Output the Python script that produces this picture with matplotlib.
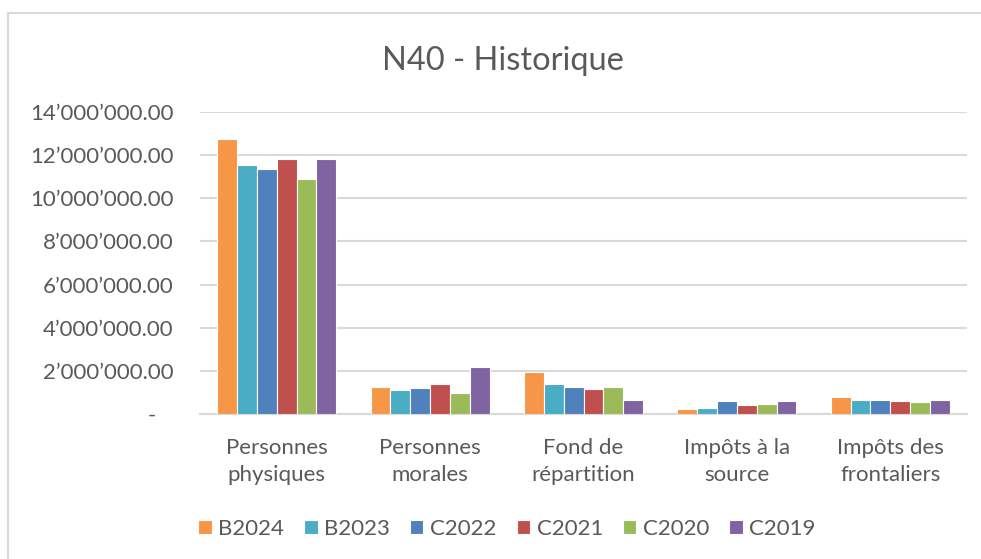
import numpy as np
import matplotlib.pyplot as plt
from matplotlib.patches import Rectangle
from matplotlib.ticker import FuncFormatter

plt.rcParams['font.family'] = ['Lato', 'DejaVu Sans']

categories = ['Personnes\nphysiques', 'Personnes\nmorales', 'Fond de\nrépartition',
              'Impôts à la\nsource', 'Impôts des\nfrontaliers']
series = ['B2024', 'B2023', 'C2022', 'C2021', 'C2020', 'C2019']
colors = ['#F79646', '#4BACC6', '#4F81BD', '#C0504D', '#9BBB59', '#8064A2']

# values in CHF
b2024 = [12_720_000, 1_240_000, 1_960_000, 240_000, 780_000]
b2023 = [11_520_000, 1_130_000, 1_380_000, 300_000, 660_000]
c2022 = [11_340_000, 1_200_000, 1_240_000, 610_000, 660_000]
c2021 = [11_830_000, 1_380_000, 1_180_000, 430_000, 610_000]
c2020 = [10_870_000, 970_000, 1_240_000, 490_000, 550_000]
c2019 = [11_830_000, 2_190_000, 660_000, 610_000, 660_000]
values = [b2024, b2023, c2022, c2021, c2020, c2019]

text_col = '#595959'
grid_col = '#D9D9D9'
fs = 16

fig = plt.figure(figsize=(9.81, 5.59), dpi=100)
ax = fig.add_axes([200 / 981, 1 - 414.3 / 559, 767 / 981, (414.3 - 111.7) / 559])

# chart border (cut off at right and bottom, like the screenshot)
fig.patches.append(Rectangle((8 / 981, -0.2), 1.2, 1.2 - 13 / 559,
                             transform=fig.transFigure, fill=False,
                             edgecolor=grid_col, linewidth=1.5))

x = np.arange(len(categories))
group_w = 0.775
bw = group_w / len(series)
for i, (name, vals, c) in enumerate(zip(series, values, colors)):
    ax.bar(x - group_w / 2 + bw * (i + 0.5), vals, width=bw, color=c,
           edgecolor='white', linewidth=0.8, label=name, zorder=3)

ax.set_xlim(-0.5, len(categories) - 0.5)
ax.set_ylim(0, 14_000_000)
ax.set_yticks(np.arange(0, 14_000_001, 2_000_000))


def fmt(v, pos):
    if v == 0:
        return '-   '
    return '{:,.2f}'.format(v).replace(',', '\u2019')


ax.yaxis.set_major_formatter(FuncFormatter(fmt))
ax.set_xticks(x)
ax.set_xticklabels(categories, linespacing=1.45)
ax.tick_params(axis='y', length=0, pad=19, labelsize=fs, labelcolor=text_col)
ax.tick_params(axis='x', length=0, pad=17, labelsize=fs, labelcolor=text_col)

ax.grid(axis='y', color=grid_col, linewidth=1.5, zorder=0)
for s in ['top', 'right', 'left']:
    ax.spines[s].set_visible(False)
ax.spines['bottom'].set_color(grid_col)
ax.spines['bottom'].set_linewidth(1.5)

fig.text(503 / 981, 1 - 61 / 559, 'N40 - Historique', ha='center', va='center',
         fontsize=23.5, color=text_col)

fig.legend(loc='center', bbox_to_anchor=(507 / 981, 1 - 529 / 559), ncol=6,
           frameon=False, fontsize=fs, labelcolor=text_col,
           handlelength=0.6, handleheight=0.6, handletextpad=0.3, columnspacing=0.9)

fig.savefig('out.png', dpi=100)
